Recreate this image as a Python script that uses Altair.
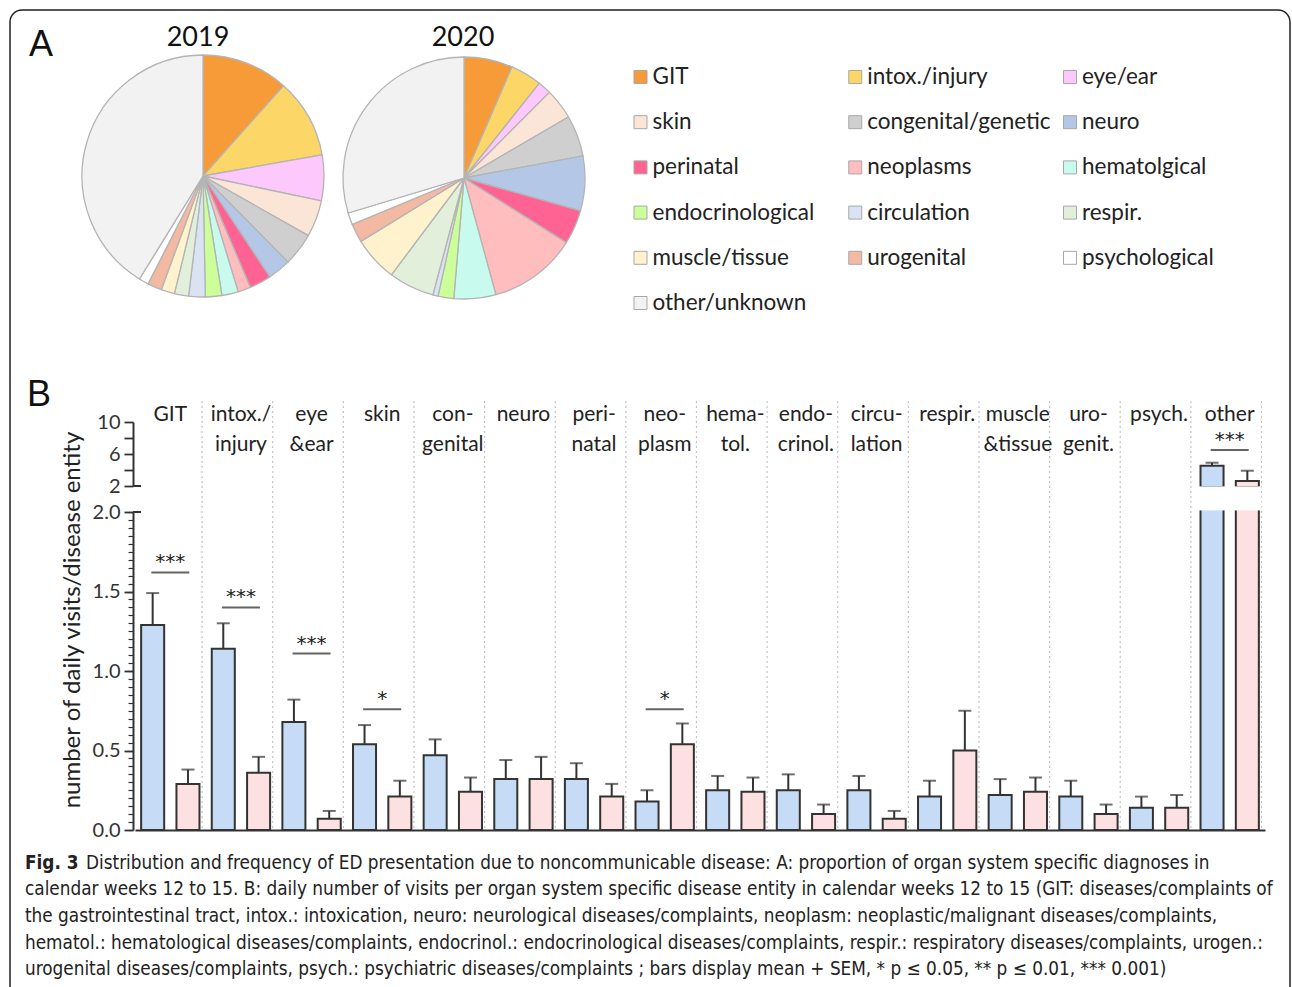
import altair as alt
import pandas as pd

W, H = 1292, 987
FONT = "Lato"
DARK = "#333333"

# ---------------- Panel A: share of diagnoses per organ system ----------------
legend_labels = ["GIT", "intox./injury", "eye/ear", "skin", "congenital/genetic", "neuro",
                 "perinatal", "neoplasms", "hematolgical", "endocrinological", "circulation",
                 "respir.", "muscle/tissue", "urogenital", "psychological", "other/unknown"]
slice_colors = ["#f79a38", "#fcd667", "#fdc9fd", "#fbe5d6", "#cfcfcf", "#b4c7e7",
                "#fe6394", "#ffbdbd", "#c8fbee", "#ccff99", "#dae3f3",
                "#e2efda", "#fff2cc", "#f4b9a2", "#ffffff", "#f2f2f2"]
share_2019 = [11.6, 10.6, 6.1, 4.9, 4.4, 3.1, 2.9, 1.7, 2.2, 2.2, 2.2, 1.9, 1.8, 1.9, 1.3, 41.2]
share_2020 = [6.5, 4.2, 1.8, 4.1, 5.5, 7.3, 4.6, 11.8, 5.6, 2.1, 0.7, 6.1, 6.0, 2.5, 1.6, 29.7]

# ---------------- Panel B: daily visits per disease entity ----------------
bar_keys = ["GIT", "intox", "eye", "skin", "congenital", "neuro", "perinatal", "neoplasm",
            "hematol", "endocrinol", "circulation", "respir", "muscle", "urogenit", "psych", "other"]
bar_labels = ["GIT", "intox./\ninjury", "eye\n&ear", "skin", "con-\ngenital", "neuro",
              "peri-\nnatal", "neo-\nplasm", "hema-\ntol.", "endo-\ncrinol.", "circu-\nlation",
              "respir.", "muscle\n&tissue", "uro-\ngenit.", "psych.", "other"]
mean_2019 = [1.29, 1.14, 0.68, 0.54, 0.47, 0.32, 0.32, 0.18, 0.25, 0.25, 0.25, 0.21, 0.22, 0.21, 0.14, 4.54]
sem_2019 = [0.20, 0.16, 0.14, 0.12, 0.10, 0.12, 0.10, 0.07, 0.09, 0.10, 0.09, 0.10, 0.10, 0.10, 0.07, 0.37]
mean_2020 = [0.29, 0.36, 0.07, 0.21, 0.24, 0.32, 0.21, 0.54, 0.24, 0.10, 0.07, 0.50, 0.24, 0.10, 0.14, 2.62]
sem_2020 = [0.09, 0.10, 0.05, 0.10, 0.09, 0.14, 0.08, 0.13, 0.09, 0.06, 0.05, 0.25, 0.09, 0.06, 0.08, 1.29]
years = ["2019", "2020"]
year_colors = ["#c6dcf6", "#fde0e1"]

sig_keys = ["GIT", "intox", "eye", "skin", "neoplasm", "other"]
sig_marks = ["***", "***", "***", "*", "*", "***"]
sig_level = [1.62, 1.40, 1.11, 0.76, 0.76, 6.5]

caption_head = "Fig. 3"
caption_lines = [
    "Distribution and frequency of ED presentation due to noncommunicable disease: A: proportion of organ system specific diagnoses in",
    "calendar weeks 12 to 15. B: daily number of visits per organ system specific disease entity in calendar weeks 12 to 15 (GIT: diseases/complaints of",
    "the gastrointestinal tract, intox.: intoxication, neuro: neurological diseases/complaints, neoplasm: neoplastic/malignant diseases/complaints,",
    "hematol.: hematological diseases/complaints, endocrinol.: endocrinological diseases/complaints, respir.: respiratory diseases/complaints, urogen.:",
    "urogenital diseases/complaints, psych.: psychiatric diseases/complaints ; bars display mean + SEM, * p \u2264 0.05, ** p \u2264 0.01, *** 0.001)",
]

# ---------------- tables ----------------
one = pd.DataFrame({"k": [0]})
pie19 = pd.DataFrame({"cat": legend_labels, "share": share_2019, "idx": range(16)})
pie20 = pd.DataFrame({"cat": legend_labels, "share": share_2020, "idx": range(16)})
legend_df = pd.DataFrame({"cat": legend_labels,
                          "col": [i % 3 for i in range(16)],
                          "row": [i // 3 for i in range(16)]})
rows = []
for i, k in enumerate(bar_keys):
    rows.append(dict(key=k, year="2019", mean=mean_2019[i], sem=sem_2019[i]))
    rows.append(dict(key=k, year="2020", mean=mean_2020[i], sem=sem_2020[i]))
bars_df = pd.DataFrame(rows)
labels_df = pd.DataFrame({"key": bar_keys, "label": bar_labels})
sig_df = pd.DataFrame({"key": sig_keys, "mark": sig_marks, "level": sig_level})

# ---------------- scales ----------------
cat_color = alt.Scale(domain=legend_labels, range=slice_colors)
yr_color = alt.Scale(domain=years, range=year_colors)
x_sc = alt.Scale(domain=bar_keys, range=[135, 1265], paddingInner=0, paddingOuter=0)
xo_sc = alt.Scale(domain=years, paddingInner=0.348, paddingOuter=0.174)
y_low = alt.Scale(domain=[0, 2], range=[830, 512], nice=False, zero=False)
y_up = alt.Scale(domain=[2, 10], range=[486, 422], nice=False, zero=False)
leg_x = alt.Scale(domain=[0, 2], range=[640.5, 1070], nice=False, zero=False)
leg_y = alt.Scale(domain=[0, 5], range=[77, 303], nice=False, zero=False)

X = alt.X("key:N", scale=x_sc, axis=None)
XO = alt.XOffset("year:N", scale=xo_sc)
COL = alt.Color("year:N", scale=yr_color, legend=None)


def txt(text, x, y, size, font=FONT, weight="normal", align="center", angle=0, color="#222"):
    return alt.Chart(one).mark_text(text=text, fontSize=size, font=font, fontWeight=weight,
                                    align=align, baseline="middle", angle=angle,
                                    color=color).encode(x=alt.value(x), y=alt.value(y))


layers = []

# outer frame
layers.append(alt.Chart(one).mark_rect(filled=False, stroke="#222", strokeWidth=1.5,
                                       cornerRadius=12).encode(
    x=alt.value(10), x2=alt.value(1290), y=alt.value(10), y2=alt.value(1000)))

# panel letters and pie titles
layers.append(txt("A", 41, 45, 36, font="Liberation Sans", color="#111"))
layers.append(txt("B", 39, 395, 36, font="Liberation Sans", color="#111"))
layers.append(txt("2019", 198, 38, 27, color="#111"))
layers.append(txt("2020", 463, 38, 27, color="#111"))

# pies
for df, cx, cy in [(pie19, 203, 176), (pie20, 464, 178)]:
    layers.append(alt.Chart(df).mark_arc(outerRadius=121, stroke="#b4b4b4", strokeWidth=1.3).encode(
        theta=alt.Theta("share:Q", stack=True),
        color=alt.Color("cat:N", scale=cat_color, legend=None),
        order=alt.Order("idx:Q"),
        x=alt.value(cx), y=alt.value(cy)))

# legend grid
layers.append(alt.Chart(legend_df).mark_square(size=169, stroke="#a8a8a8", strokeWidth=1,
                                               opacity=1).encode(
    x=alt.X("col:Q", scale=leg_x, axis=None),
    y=alt.Y("row:Q", scale=leg_y, axis=None),
    color=alt.Color("cat:N", scale=cat_color, legend=None)))
layers.append(alt.Chart(legend_df).mark_text(align="left", baseline="middle", dx=12,
                                             fontSize=22.5, font=FONT, color="#222").encode(
    x=alt.X("col:Q", scale=leg_x, axis=None),
    y=alt.Y("row:Q", scale=leg_y, axis=None),
    text="cat:N"))

# dotted separators between disease entities
layers.append(alt.Chart(labels_df).mark_rule(strokeDash=[2, 3], color="#c2c2c2", strokeWidth=1.2).encode(
    x=alt.X("key:N", scale=x_sc, axis=None, bandPosition=0.95),
    y=alt.value(401), y2=alt.value(830)))

# entity labels on top
layers.append(alt.Chart(labels_df).mark_text(fontSize=21, font=FONT, lineBreak="\n", lineHeight=30,
                                             baseline="alphabetic", align="center",
                                             color="#222").encode(
    x=X, y=alt.value(421), text="label:N"))

# lower segment: bars (0 - 2.0)
low = alt.Chart(bars_df).transform_calculate(v="min(datum.mean, 2.03)", top="datum.mean + datum.sem")
layers.append(low.mark_bar(stroke=DARK, strokeWidth=2).encode(
    x=alt.X("key:N", scale=x_sc,
            axis=alt.Axis(orient="bottom", offset=-157, labels=False, ticks=False, title=None,
                          domainColor=DARK, domainWidth=2.2, grid=False)),
    xOffset=XO,
    y=alt.Y("v:Q", scale=y_low,
            axis=alt.Axis(orient="left", offset=-133, values=[0, 0.5, 1, 1.5, 2], format=".1f",
                          tickSize=9, tickWidth=1.8, tickColor=DARK, domainColor=DARK,
                          domainWidth=2, labelFontSize=20, labelFont=FONT, labelColor=DARK,
                          labelPadding=4, title=None, grid=False)),
    color=COL))
# the broken bar continues upward: hide its top edge
layers.append(low.transform_filter("datum.mean > 2").mark_bar(color="white", width=28).encode(
    x=X, xOffset=XO,
    y=alt.YDatum(2.01, scale=y_low, axis=None), y2=alt.Y2Datum(2.12)))
low_err = low.transform_filter("datum.mean < 2")
layers.append(low_err.mark_rule(color=DARK, strokeWidth=2).encode(
    x=X, xOffset=XO,
    y=alt.Y("mean:Q", scale=y_low,
            axis=alt.Axis(orient="left", offset=-133, values=[round(i * 0.05, 2) for i in range(41)],
                          labels=False, domain=False, tickSize=5, tickWidth=1.2, tickColor=DARK,
                          title=None, grid=False)),
    y2="top:Q"))
layers.append(low_err.mark_tick(color=DARK, thickness=2, size=13).encode(
    x=X, xOffset=XO, y=alt.Y("top:Q", scale=y_low, axis=None)))

# upper segment: bars above the break (2 - 10)
up = alt.Chart(bars_df).transform_filter("datum.key == 'other'").transform_calculate(
    top="datum.mean + datum.sem")
layers.append(up.mark_bar(stroke=DARK, strokeWidth=2).encode(
    x=X, xOffset=XO,
    y=alt.Y("mean:Q", scale=y_up,
            axis=alt.Axis(orient="left", offset=-133, values=[2, 4, 6, 8, 10],
                          labelExpr="datum.value % 4 == 2 ? datum.label : ''",
                          tickSize=9, tickWidth=1.8, tickColor=DARK, domainColor=DARK,
                          domainWidth=2, labelFontSize=20, labelFont=FONT, labelColor=DARK,
                          labelPadding=4, title=None, grid=False)),
    y2=alt.Y2Datum(1.85),
    color=COL))
layers.append(up.mark_bar(color="white", width=28).encode(
    x=X, xOffset=XO, y=alt.YDatum(1.4, scale=y_up, axis=None), y2=alt.Y2Datum(1.95)))
layers.append(up.mark_rule(color=DARK, strokeWidth=2).encode(
    x=X, xOffset=XO, y=alt.Y("mean:Q", scale=y_up, axis=None), y2="top:Q"))
layers.append(up.mark_tick(color=DARK, thickness=2, size=13).encode(
    x=X, xOffset=XO, y=alt.Y("top:Q", scale=y_up, axis=None)))

# axis break stubs
layers.append(alt.Chart(one).mark_rule(color=DARK, strokeWidth=2).encode(
    x=alt.value(133), x2=alt.value(141), y=alt.YDatum(2, scale=y_up, axis=None)))
layers.append(alt.Chart(one).mark_rule(color=DARK, strokeWidth=2).encode(
    x=alt.value(133), x2=alt.value(141), y=alt.YDatum(2, scale=y_low, axis=None)))

# significance brackets
sig_low = alt.Chart(sig_df).transform_filter("datum.key != 'other'")
sig_up = alt.Chart(sig_df).transform_filter("datum.key == 'other'")
for src, ysc in [(sig_low, y_low), (sig_up, y_up)]:
    layers.append(src.mark_tick(color="#222", thickness=2, size=38).encode(
        x=X, y=alt.Y("level:Q", scale=ysc, axis=None)))
    layers.append(src.mark_text(fontSize=20, font="DejaVu Sans", dy=-4, baseline="alphabetic",
                                color="#222").encode(
        x=X, y=alt.Y("level:Q", scale=ysc, axis=None), text="mark:N"))

# y axis title
layers.append(txt("number of daily visits/disease entity", 73, 620, 24, angle=270, color="#222"))

# caption
CAP = "Liberation Sans Narrow, DejaVu Sans Condensed, Roboto"
CAP_SIZE = 18.8
layers.append(txt(caption_head, 25, 863, CAP_SIZE, font=CAP, weight="bold", align="left"))
layers.append(alt.Chart(one).mark_text(text=caption_lines[0], fontSize=CAP_SIZE, font=CAP, align="left",
                                       baseline="middle", color="#222").encode(
    x=alt.value(86), y=alt.value(863)))
layers.append(alt.Chart(one).mark_text(text="\n".join(caption_lines[1:]), lineBreak="\n",
                                       lineHeight=26.8, fontSize=CAP_SIZE, font=CAP, align="left",
                                       baseline="top", color="#222").encode(
    x=alt.value(25), y=alt.value(880)))

chart = alt.layer(*layers).resolve_scale(
    x="independent", y="independent", color="independent", theta="independent",
    xOffset="independent"
).properties(width=W, height=H, padding=0, autosize="none", background="white"
).configure_view(stroke=None)

chart.save("out.html", embed_options={"renderer": "svg", "actions": False})
